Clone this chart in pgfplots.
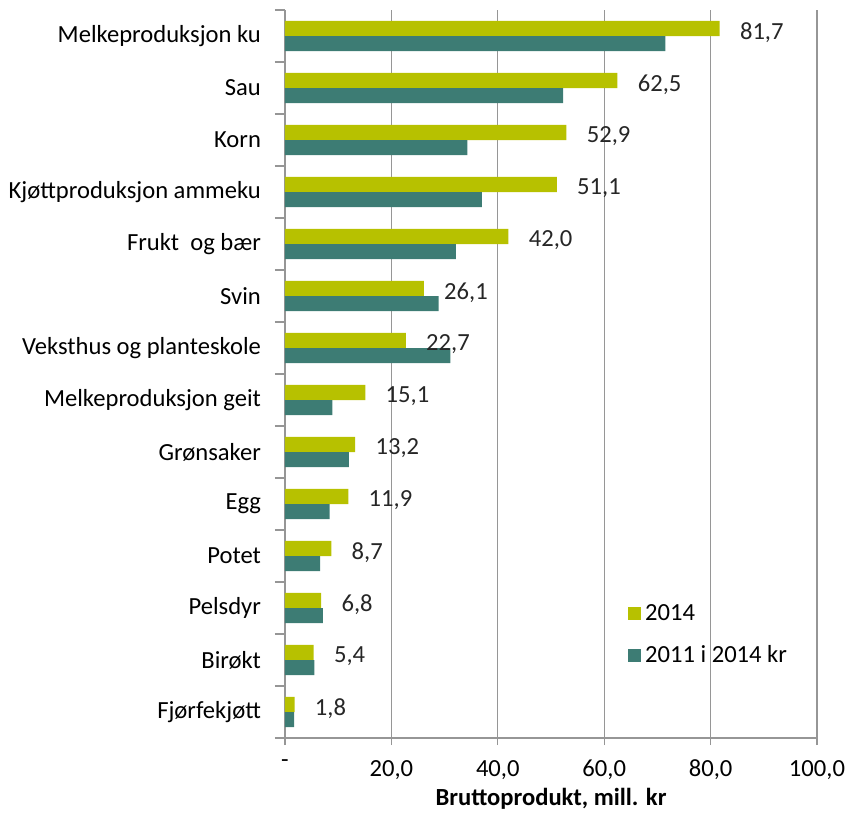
\documentclass[border=0pt]{standalone}
\usepackage{pgfplots}
\pgfplotsset{compat=1.18}
\usepackage{pgfplotstable}
\usepackage{fontspec}
\setmainfont{Carlito}
\definecolor{cyel}{RGB}{183,193,0}
\definecolor{cteal}{RGB}{61,124,116}
\definecolor{cgrid}{RGB}{150,150,150}

\pgfplotstableread{
idx v14 v11 lab
0 81.7 71.5 81,7
1 62.5 52.3 62,5
2 52.9 34.3 52,9
3 51.1 37.0 51,1
4 42.0 32.1 42,0
5 26.1 28.9 26,1
6 22.7 31.1 22,7
7 15.1 8.9 15,1
8 13.2 12.0 13,2
9 11.9 8.4 11,9
10 8.7 6.6 8,7
11 6.8 7.1 6,8
12 5.4 5.5 5,4
13 1.8 1.7 1,8
}\data

\begin{document}
\begin{tikzpicture}
\begin{axis}[name=ax, scale only axis, width=266pt, height=364pt,
  xbar, bar width=0.29, y dir=reverse,
  xmin=0, xmax=100, ymin=-0.5, ymax=13.5,
  axis x line*=bottom, axis y line*=left,
  axis line style={-, draw=cgrid, line width=0.6pt},
  xtick={0,20,...,100},
  xticklabels={-,{20,0},{40,0},{60,0},{80,0},{100,0}},
  xmajorgrids, grid style={cgrid, line width=0.6pt},
  x tick style={draw=cgrid, line width=0.6pt},
  tick align=outside, major tick length=3.5pt,
  xticklabel style={yshift=-4pt},
  ytick={0,...,13},
  yticklabels={Melkeproduksjon ku, Sau, Korn, Kjøttproduksjon ammeku, Frukt\ \ og bær, Svin\ , Veksthus og planteskole, Melkeproduksjon geit, Grønsaker\ , Egg, Potet\ , Pelsdyr, Birøkt, Fjørfekjøtt},
  y tick style={draw=none},
  yticklabel style={xshift=-5pt},
  extra y ticks={-0.5,0.5,...,13.5},
  extra y tick labels={},
  extra y tick style={y tick style={draw=cgrid, line width=0.6pt}, major tick length=5pt, grid=none},
  font=\fontsize{12.3}{14}\selectfont,
  xlabel={\bfseries Bruttoprodukt, mill. kr},
  xlabel style={yshift=3pt},
  legend style={at={(0.633,0.195)}, anchor=north west, draw=none, fill=none,
    row sep=7pt, font=\fontsize{12.3}{14}\selectfont},
  legend cell align=left,
  point meta=explicit symbolic,
]
\addplot[draw=none, fill=cyel, bar shift=-0.145,
  legend image code/.code={\fill[cyel] (0pt,-3.25pt) rectangle (6.5pt,3.25pt);},
  nodes near coords, nodes near coords style={anchor=west, inner sep=0pt, xshift=10pt, yshift=-2pt, font=\fontsize{12.3}{14}\selectfont, text=black!85}]
  table[x=v14, y=idx, meta=lab] {\data};
\addlegendentry{2014}
\addplot[draw=none, fill=cteal, bar shift=0.145,
  legend image code/.code={\fill[cteal] (0pt,-3.25pt) rectangle (6.5pt,3.25pt);}]
  table[x=v11, y=idx] {\data};
\addlegendentry{2011 i 2014 kr}
\end{axis}
\pgfresetboundingbox
\path ([xshift=-142.5pt,yshift=-38pt]ax.south west) rectangle ([xshift=15pt,yshift=5pt]ax.north east);
\end{tikzpicture}
\end{document}
